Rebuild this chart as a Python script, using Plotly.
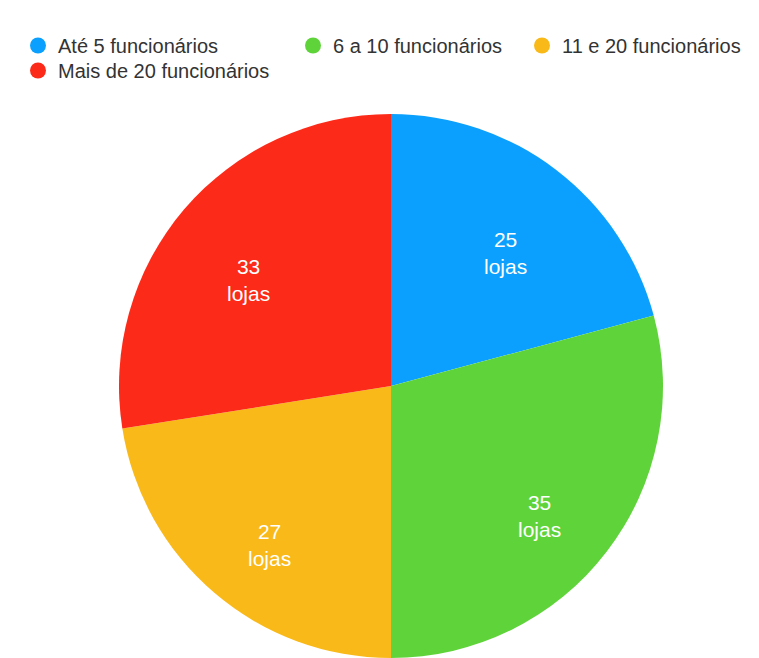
import math
import plotly.graph_objects as go

categories = ["Até 5 funcionários", "6 a 10 funcionários", "11 e 20 funcionários", "Mais de 20 funcionários"]
values = [25, 35, 27, 33]
colors = ["#0BA0FD", "#5FD43A", "#F9B918", "#FC2A18"]
unit = "lojas"

W, H = 759, 658
cx, cy, R = 391, 386, 272

dom_x = [(cx - R) / W, (cx + R) / W]
dom_y = [1 - (cy + R) / H, 1 - (cy - R) / H]
dom_y = [max(0, dom_y[0]), dom_y[1]]

fig = go.Figure()
fig.add_trace(go.Pie(
    labels=categories,
    values=values,
    sort=False,
    direction="clockwise",
    rotation=0,
    marker=dict(colors=colors, line=dict(width=0)),
    textinfo="none",
    showlegend=False,
    hoverinfo="label+value",
    domain=dict(x=dom_x, y=dom_y),
))

# slice labels placed at the middle angle of each slice
total = sum(values)
cum = 0
label_font = dict(family="Liberation Sans, Arial, sans-serif", size=21, color="white")
for v in values:
    mid = (cum + v / 2) / total * 2 * math.pi
    cum += v
    px = cx + 0.69 * R * math.sin(mid)
    py = cy - 0.69 * R * math.cos(mid) + 16
    fig.add_annotation(
        x=px / W, y=1 - py / H, xref="paper", yref="paper",
        text=f"{v}<br>{unit}", showarrow=False, font=label_font,
        xanchor="center", yanchor="middle", align="center",
    )

# legend entries (circle markers) placed like the reference
legend_map = ["legend", "legend2", "legend3", "legend4"]
for i, (lab, col) in enumerate(zip(categories, colors)):
    fig.add_trace(go.Scatter(
        x=[None], y=[None], mode="markers", name=lab,
        marker=dict(symbol="circle", size=16, color=col),
        legend=legend_map[i], showlegend=True,
    ))

lf = dict(family="Liberation Sans, Arial, sans-serif", size=20, color="#333333")
ly1 = 1 - 26 / H
ly2 = 1 - 51 / H
common = dict(xanchor="left", yanchor="top", font=lf, bgcolor="rgba(0,0,0,0)")
fig.update_layout(
    width=W, height=H,
    margin=dict(l=0, r=0, t=0, b=0),
    paper_bgcolor="white", plot_bgcolor="white",
    xaxis=dict(visible=False), yaxis=dict(visible=False),
    legend=dict(x=18 / W, y=ly1, **common),
    legend2=dict(x=293 / W, y=ly1, **common),
    legend3=dict(x=522 / W, y=ly1, **common),
    legend4=dict(x=18 / W, y=ly2, **common),
)

fig.write_html("out.html")
